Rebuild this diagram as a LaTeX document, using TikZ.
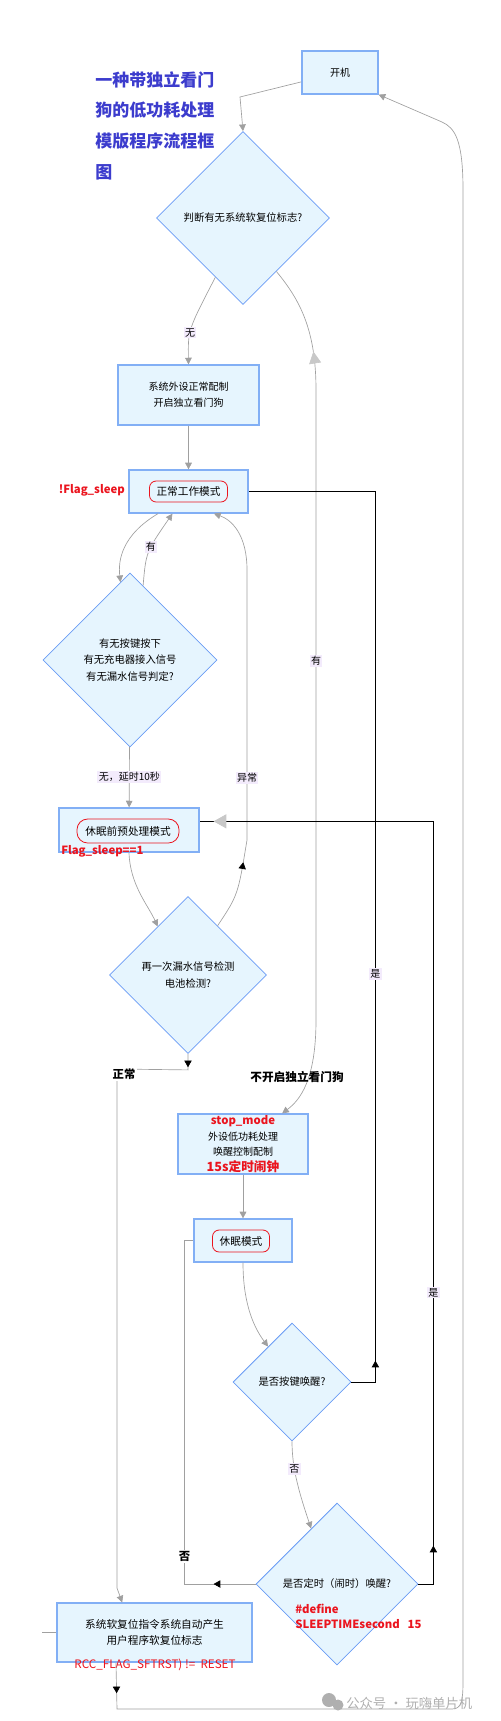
\documentclass[tikz,border=0pt]{standalone}
\usepackage{fontspec}
\setmainfont{Noto Sans CJK SC}
\usetikzlibrary{shapes.geometric, arrows.meta, decorations.markings}

\definecolor{boxfill}{RGB}{230,245,254}
\definecolor{boxline}{RGB}{130,175,245}
\definecolor{diamondline}{RGB}{105,155,245}
\definecolor{flowgray}{RGB}{160,160,160}
\definecolor{markgray}{RGB}{200,200,200}
\definecolor{labelbg}{RGB}{243,235,252}
\definecolor{notered}{RGB}{235,20,30}
\definecolor{titleblue}{RGB}{60,60,205}
\definecolor{wmgray}{RGB}{175,175,175}

\tikzset{
    % Process steps - light blue rectangles
    process box/.style={rectangle, draw=boxline, fill=boxfill, line width=0.9pt, align=center,
        inner sep=1pt, font=\fontsize{7.5}{12}\selectfont},
    % Decisions - light blue diamonds
    decision/.style={diamond, aspect=1, draw=diamondline, fill=boxfill, line width=0.6pt, align=center,
        inner sep=0pt, font=\fontsize{7.75}{12.4}\selectfont},
    % Mode name inside a box - red rounded frame
    mode tag/.style={rectangle, rounded corners=5pt, draw=notered, line width=0.6pt, inner sep=0pt,
        font=\fontsize{8}{10}\selectfont},
    % Normal flow - thin gray line with gray triangle
    plain line/.style={draw=flowgray, line width=0.5pt},
    flow/.style={plain line, -{Triangle[width=5pt, length=5pt, color=flowgray]}},
    % Return paths drawn by hand - black lines
    return line/.style={black, line width=0.6pt},
    % Branch labels - pale purple patch
    branch/.style={fill=labelbg, inner sep=1pt, font=\fontsize{7.5}{9}\selectfont},
    % Bold black notes
    bold label/.style={inner sep=1pt, font=\bfseries\fontsize{8.5}{10}\selectfont},
    % Red code notes
    red note/.style={text=notered, inner sep=0pt, font=\bfseries\fontsize{8.5}{11.25}\selectfont},
    % Triangles sitting on a line
    black mark/.style={postaction={decorate, decoration={markings,
        mark=at position #1 with {\arrow{Triangle[width=5.5pt, length=5pt, color=black]}}}}},
    gray mark/.style={postaction={decorate, decoration={markings,
        mark=at position #1 with {\arrow{Triangle[width=10.5pt, length=9.5pt, color=markgray]}}}}},
    up mark/.style={postaction={decorate, decoration={markings,
        mark=at position #1 with {\arrowreversed{Triangle[width=9pt, length=9pt, color=markgray]}}}}}
}

\begin{document}
\begin{tikzpicture}[x=0.75pt, y=-0.75pt]
    \useasboundingbox (0,0) rectangle (500,1721);

    % --- Title ---
    \node[anchor=north west, align=left, inner sep=0pt, text=titleblue,
        font=\bfseries\fontsize{12.75}{23}\selectfont] (title) at (95,71)
        {一种带独立看门\\狗的低功耗处理\\模版程序流程框\\图};

    % --- Boxes and decisions ---
    \node[process box, minimum width=57pt, minimum height=32.25pt] (start) at (340,72.5) {开机};
    \node[decision, minimum size=129.75pt] (chkflag) at (243,218) {判断有无系统软复位标志?};
    \node[process box, minimum width=105.75pt, minimum height=45pt] (periph) at (188.5,395)
        {系统外设正常配制\\开启独立看门狗};

    \node[process box, minimum width=89.25pt, minimum height=32.25pt] (normal) at (188.5,491.5) {};
    \node[mode tag, minimum width=58.5pt, minimum height=15.75pt] (normaltag) at (normal) {正常工作模式};
    \node[red note, anchor=east] (flagoff) at (125,490) {!Flag\_sleep};

    \node[decision, minimum size=130.5pt] (decide) at (130,660)
        {有无按键按下\\有无充电器接入信号\\有无漏水信号判定?};

    \node[process box, minimum width=105pt, minimum height=33pt] (presleep) at (129,830) {};
    \node[mode tag, rounded corners=8pt, minimum width=76.5pt, minimum height=18pt] (presleeptag)
        at (128,831) {休眠前预处理模式};
    \node[red note, anchor=west] (flagon) at (61,851) {Flag\_sleep==1};

    \node[decision, minimum size=117.75pt] (recheck) at (188,975) {再一次漏水信号检测\\电池检测?};

    \node[process box, minimum width=97.5pt, minimum height=45pt, inner sep=0pt,
        font=\fontsize{7.5}{11.8}\selectfont] (stopm) at (243,1144)
        {\textcolor{notered}{\bfseries\fontsize{8.5}{10}\selectfont stop\_mode}\\外设低功耗处理\\唤醒控制配制\\
         \textcolor{notered}{\bfseries\fontsize{9.5}{11}\selectfont 15s定时闹钟}};

    \node[process box, minimum width=73.5pt, minimum height=32.25pt] (sleep) at (243,1240.5) {};
    \node[mode tag, minimum width=42.75pt, minimum height=16.5pt] (sleeptag) at (241,1241) {休眠模式};

    \node[decision, minimum size=88.5pt] (keywake) at (292,1382) {是否按键唤醒?};
    \node[decision, minimum size=121.5pt] (timewake) at (337,1584) {是否定时（闹时）唤醒?};
    \node[red note, anchor=north west, align=left] (defnote) at (295,1604)
        {\#define\\SLEEPTIMEsecond\ \ \ 15};

    \node[process box, minimum width=146.25pt, minimum height=44.25pt, font=\fontsize{8}{12}\selectfont]
        (reset) at (154.5,1632.5) {系统软复位指令系统自动产生\\用户程序软复位标志};
    \node[text=notered, inner sep=0pt, font=\fontsize{8.75}{10}\selectfont] (rccnote) at (155,1665)
        {RCC\_FLAG\_SFTRST) !=\ \ RESET};

    % --- Forward flow ---
    \draw[flow] ([yshift=-7pt]start.west) -- (240,97) -- (chkflag.north);
    \draw[flow] (chkflag.245) .. controls (188,330) .. (periph.north) node[branch, pos=0.58] {无};
    \draw[flow] (periph) -- (normal);
    \draw[flow] (normal.216) .. controls (122,535) and (118,560) .. (decide.97);
    \draw[flow] (decide.80) .. controls (146,552) .. (normal.234) node[branch, pos=0.58] {有};
    \draw[flow] (decide) -- (presleep) node[branch, midway] {无，延时10秒};
    \draw[flow] (presleep.south) .. controls (130,885) and (148,905) .. (recheck.122);
    \draw[flow, black mark=52pt] (recheck.59) .. controls (238,895) .. (247,840) -- (247,570)
        node[branch, pos=0.23] {异常} .. controls (247,535) and (232,520) .. (normal.-41);
    \draw[flow, up mark=67pt] (chkflag.-58) .. controls (300,300) and (316,330) .. (316,390) -- (316,1020)
        node[branch, pos=0.43] {有} .. controls (316,1080) and (300,1100) .. (stopm.38);
    \draw[flow] (stopm) -- (sleep);
    \draw[flow] (sleep.south) .. controls (243,1300) and (252,1325) .. (keywake.124);
    \draw[flow] (keywake.south) .. controls (292,1470) and (300,1495) .. (timewake.115)
        node[branch, pos=0.33] {否};

    % --- Return paths ---
    \draw[return line, black mark=34pt] (keywake.east) -- ++(24,0) |- (normal.east)
        node[branch, pos=0.229] {是};
    \draw[return line, black mark=40pt, gray mark=-10.5pt] (timewake.east) -- ++(15,0) |- (presleep.7)
        node[branch, pos=0.191] {是};
    \draw[plain line, black mark=31.5pt] (timewake.west) -- ++(-71,0) |- (sleep.west)
        node[bold label, fill=white, pos=0.04] {否};
    \draw[flow, black mark=10pt] (recheck.south) -- ++(0,16) -- (117,1069) -- (117,1588) -- (reset.137);
    \draw[flow, black mark=23pt] (reset.218) -- (117,1709) -- (452,1709)
        .. controls (462,1709) and (463,1700) .. (463,1680) -- (463,190)
        .. controls (463,140) and (455,128) .. (442,122) -- (start.south east);
    \draw[plain line] (reset.west) -- ++(-14,0);

    % --- Notes on the branches ---
    \node[bold label, fill=white] (normallbl) at (124,1074) {正常};
    \node[bold label, font=\bfseries\fontsize{8.75}{10}\selectfont] (nowdg) at (297,1077) {不开启独立看门狗};

    % --- Watermark ---
    \fill[wmgray] (329,1700) circle (7);
    \fill[wmgray] (338,1705) circle (5.5);
    \node[anchor=west, inner sep=0pt, text=wmgray, font=\fontsize{10}{12}\selectfont] (wm) at (346,1703)
        {公众号 · 玩嗨单片机};
\end{tikzpicture}
\end{document}
